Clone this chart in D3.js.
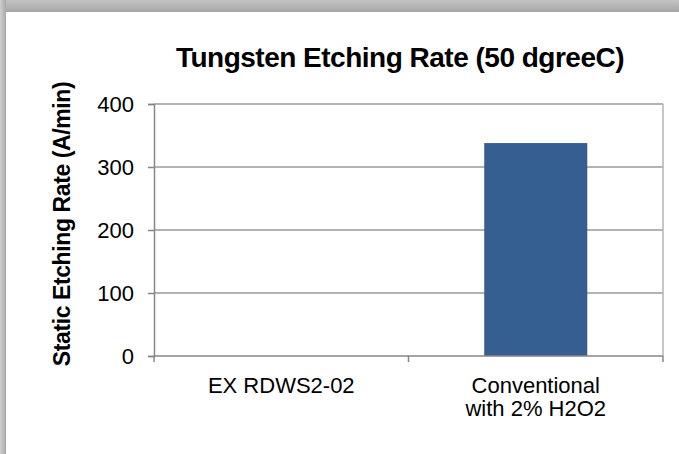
<!DOCTYPE html>
<html lang="en">
<head>
    <meta charset="UTF-8">
    <title>Tungsten Etching Rate</title>
    <script src="https://d3js.org/d3.v7.min.js"></script>
    <style>
        body { margin: 0; background: #fff; }
        text { font-family: Arial, "Liberation Sans", sans-serif; fill: #000; }
    </style>
</head>
<body>
    <svg id="chart"></svg>
    <script>
        const categories = ["EX RDWS2-02", "Conventional|with 2% H2O2"];
        const values = [0, 338];
        const yTicks = [0, 100, 200, 300, 400];

        const width = 679, height = 454;
        const margin = { left: 154, right: 16, top: 104, bottom: 98 };

        const svg = d3.select("#chart").attr("width", width).attr("height", height);

        // card with soft shadow on top and left
        const defs = svg.append("defs");
        const gTop = defs.append("linearGradient").attr("id", "shTop").attr("x1", 0).attr("y1", 0).attr("x2", 0).attr("y2", 1);
        gTop.append("stop").attr("offset", "0%").attr("stop-color", "#c4c4c4");
        gTop.append("stop").attr("offset", "100%").attr("stop-color", "#a6a6a6");
        const gLeft = defs.append("linearGradient").attr("id", "shLeft").attr("x1", 0).attr("y1", 0).attr("x2", 1).attr("y2", 0);
        gLeft.append("stop").attr("offset", "0%").attr("stop-color", "#d0d0d0");
        gLeft.append("stop").attr("offset", "100%").attr("stop-color", "#a8a8a8");

        svg.append("rect").attr("width", width).attr("height", height).attr("fill", "#fff");
        svg.append("rect").attr("x", 0).attr("y", 0).attr("width", width).attr("height", 12).attr("fill", "url(#shTop)");
        svg.append("rect").attr("x", 0).attr("y", 0).attr("width", 6).attr("height", height).attr("fill", "url(#shLeft)");
        svg.append("rect").attr("x", 6).attr("y", 12).attr("width", width - 6).attr("height", height - 12).attr("fill", "#fff");

        const x = d3.scaleBand()
            .domain(categories)
            .range([margin.left, width - margin.right])
            .paddingInner(0.595).paddingOuter(0.2975);
        const step = x.step();
        const y = d3.scaleLinear().domain([0, 400]).range([height - margin.bottom, margin.top]);

        // gridlines
        svg.append("g").selectAll("line").data(yTicks.slice(1)).enter().append("line")
            .attr("x1", margin.left).attr("x2", width - margin.right)
            .attr("y1", d => y(d)).attr("y2", d => y(d))
            .attr("stroke", "#9a9a9a").attr("stroke-width", 1.5);

        // right border of plot area
        svg.append("line")
            .attr("x1", width - margin.right).attr("x2", width - margin.right)
            .attr("y1", y(400)).attr("y2", y(0))
            .attr("stroke", "#b4b4b4").attr("stroke-width", 1.5);

        // bars
        svg.append("g").selectAll("rect").data(values).enter().append("rect")
            .attr("x", (d, i) => x(categories[i]))
            .attr("width", x.bandwidth())
            .attr("y", d => y(d))
            .attr("height", d => y(0) - y(d))
            .attr("fill", "#365f91");

        // y axis
        const yAxis = svg.append("g").attr("transform", `translate(${margin.left},0)`)
            .call(d3.axisLeft(y).tickValues(yTicks).tickSize(6).tickPadding(14));
        yAxis.select(".domain").attr("stroke", "#868686").attr("stroke-width", 1.5);
        yAxis.selectAll(".tick line").attr("stroke", "#868686").attr("stroke-width", 1.5);
        yAxis.selectAll(".tick text").style("font-size", "22px").attr("fill", "#000");

        // x axis
        const xAxisG = svg.append("g").attr("transform", `translate(0,${y(0)})`);
        xAxisG.append("line")
            .attr("x1", margin.left).attr("x2", width - margin.right)
            .attr("stroke", "#868686").attr("stroke-width", 1.5);
        const tickXs = d3.range(categories.length + 1).map(i => margin.left + i * step);
        xAxisG.selectAll(".xt").data(tickXs).enter().append("line")
            .attr("x1", d => d).attr("x2", d => d).attr("y1", 0).attr("y2", 6)
            .attr("stroke", "#868686").attr("stroke-width", 1.5);

        xAxisG.selectAll(".xl").data(categories).enter().append("text")
            .attr("x", d => x(d) + x.bandwidth() / 2)
            .attr("y", 37)
            .attr("text-anchor", "middle")
            .style("font-size", "22px")
            .each(function (d) {
                const parts = d.split("|");
                d3.select(this).selectAll("tspan").data(parts).enter().append("tspan")
                    .attr("x", x(d) + x.bandwidth() / 2)
                    .attr("dy", (p, i) => i === 0 ? 0 : 23)
                    .text(p => p);
            });

        // title
        svg.append("text")
            .attr("x", 400).attr("y", 67)
            .attr("text-anchor", "middle")
            .style("font-size", "28px").style("font-weight", "bold")
            .style("letter-spacing", "-0.5px")
            .text("Tungsten Etching Rate (50 dgreeC)");

        // y axis title
        svg.append("text")
            .attr("transform", `translate(70,${(y(0) + y(400)) / 2 - 6}) rotate(-90)`)
            .attr("text-anchor", "middle")
            .style("font-size", "23px").style("font-weight", "bold")
            .style("letter-spacing", "-0.4px")
            .text("Static Etching Rate (A/min)");
    </script>
</body>
</html>
